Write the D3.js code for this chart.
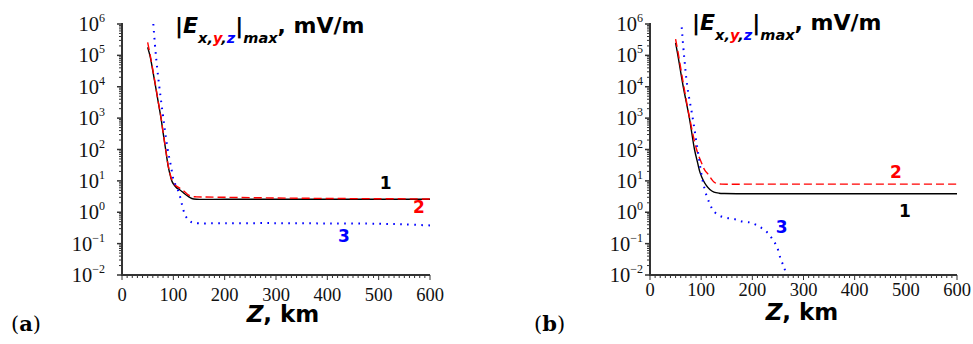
<!DOCTYPE html>
<html><head><meta charset="utf-8">
<script src="https://cdn.jsdelivr.net/npm/d3@7"></script>
<style>
html,body{margin:0;padding:0;background:#fff;}
svg{display:block;}
</style></head>
<body>
<svg id="chart" width="973" height="344"></svg>
<script>
// ---- data ----
const xTickValues = [0, 100, 200, 300, 400, 500, 600];
const yExponents = [-2, -1, 0, 1, 2, 3, 4, 5, 6];

// panel (a)
const a1_z = [50,55,60,65,70,76,80,85,90,94,97,101,106,113,120,129,136,145,200,300,400,500,600];
const a1_v = [1.8e5,9e4,3.2e4,1.1e4,3.7e3,1e3,3.5e2,1e2,2.9e1,1.5e1,1e1,7.6,6.1,5.1,4.1,3.2,2.75,2.6,2.6,2.6,2.6,2.6,2.6];
const a2_z = [50,55,60,65,70,76,80,85,90,94,97,101,106,113,120,129,136,145,200,300,400,500,600];
const a2_v = [2.6e5,1.0e5,3.5e4,1.2e4,3.8e3,1.05e3,3.6e2,1.05e2,3.1e1,1.6e1,1.1e1,8.3,6.8,5.8,4.8,3.6,3.2,3.1,3.0,2.85,2.75,2.7,2.65];
const a3_z = [61,66,72.7,80.5,89,95,101,108,114,119,125,132,140,200,300,400,500,550,600];
const a3_v = [1e6,1e5,1e4,1e3,1e2,3.2e1,1e1,5.6,2.8,1.26,0.71,0.52,0.46,0.45,0.45,0.44,0.43,0.41,0.38];

// panel (b)
const b1_z = [50,55,65,77,87,93,98,104,110,117,125,135,145,200,300,400,500,600];
const b1_v = [2.5e5,9e4,1e4,1e3,1e2,3.8e1,1.8e1,1.05e1,7.2,5.3,4.4,4.05,3.95,3.9,3.9,3.9,3.9,3.9];
const b2_z = [50,55,65,77,91,100,107,114,120,125,130,140,200,300,400,500,600];
const b2_v = [3.3e5,1.2e5,1.3e4,1.1e3,1e2,4e1,2.2e1,1.6e1,1.15e1,9.2,8.3,7.9,7.9,7.9,7.9,7.9,7.9];
const b3_z = [62,66.5,73,83.5,93,103,111,117.4,124,137,151,166,179,196,207,218.5,230,239,248,256,262,266];
const b3_v = [7.8e5,1e5,1e4,1e3,1e2,1e1,3.2,1.8,1.1,0.76,0.66,0.6,0.51,0.47,0.4,0.31,0.22,0.14,0.08,0.03,0.018,0.01];

const seriesLabels = ["1", "2", "3"];
const seriesColors = ["#000000", "#ff0000", "#0000ff"];

const svg = d3.select("#chart");

function drawPanel(cfg) {
  const g = svg.append("g");
  const x = d3.scaleLinear().domain([0, 600]).range([cfg.x0, cfg.x1]);
  const y = d3.scaleLog().domain([1e-2, 1e6]).range([275, 24]);

  // x axis: minor ticks every 10 km
  const xMinor = d3.range(0, 601, 10);
  g.append("g").selectAll("line").data(xMinor).join("line")
    .attr("x1", d => x(d)).attr("x2", d => x(d))
    .attr("y1", 275).attr("y2", d => 275 + (d % 100 === 0 ? 5 : 3))
    .attr("stroke", "#333").attr("stroke-width", 1);
  g.append("line").attr("x1", x(0)).attr("x2", x(600)).attr("y1", 275).attr("y2", 275)
    .attr("stroke", "#333").attr("stroke-width", 2);
  g.append("g").selectAll("text").data(xTickValues).join("text")
    .attr("x", d => x(d)).attr("y", cfg.xLabelY)
    .attr("text-anchor", "middle")
    .attr("font-family", "'Liberation Serif', serif")
    .attr("font-size", 18.5).attr("fill", "#111")
    .text(d => d);

  // y axis: log minor ticks
  const yMinor = [];
  for (let e = -2; e < 6; e++) for (let k = 2; k <= 9; k++) yMinor.push(k * Math.pow(10, e));
  g.append("g").selectAll("line").data(yMinor).join("line")
    .attr("x1", cfg.x0 - 3).attr("x2", cfg.x0)
    .attr("y1", d => y(d)).attr("y2", d => y(d))
    .attr("stroke", "#333").attr("stroke-width", 1);
  g.append("g").selectAll("line").data(yExponents).join("line")
    .attr("x1", cfg.x0 - 5).attr("x2", cfg.x0)
    .attr("y1", d => y(Math.pow(10, d))).attr("y2", d => y(Math.pow(10, d)))
    .attr("stroke", "#333").attr("stroke-width", 1.5);
  g.append("line").attr("x1", cfg.x0).attr("x2", cfg.x0).attr("y1", 23).attr("y2", 276)
    .attr("stroke", "#333").attr("stroke-width", 2);

  const yl = g.append("g").selectAll("text").data(yExponents).join("text")
    .attr("x", cfg.yLabelRight).attr("y", d => y(Math.pow(10, d)) + 7)
    .attr("text-anchor", "end")
    .attr("font-family", "'Liberation Serif', serif")
    .attr("font-size", 20.5).attr("fill", "#111");
  yl.append("tspan").text("10");
  yl.append("tspan").attr("dy", -9).attr("font-size", 12)
    .text(d => d < 0 ? "\u2212" + Math.abs(d) : String(d));

  // series
  const line = d3.line().x(d => x(d[0])).y(d => y(d[1])).curve(d3.curveCatmullRom.alpha(0.5));
  const dashes = [null, "8,4", "1.6,5.4"];
  cfg.series.forEach((s, i) => {
    const pts = s.z.map((z, j) => [z, s.v[j]]);
    g.append("path").attr("d", line(pts))
      .attr("fill", "none").attr("stroke", seriesColors[i])
      .attr("stroke-width", i === 2 ? 2 : 1.4)
      .attr("stroke-dasharray", dashes[i]);
  });

  // curve labels
  cfg.labelPos.forEach((p, i) => {
    g.append("text").attr("x", p[0]).attr("y", p[1] + 6)
      .attr("text-anchor", "middle")
      .attr("font-family", "'DejaVu Sans', sans-serif").attr("font-weight", "bold")
      .attr("font-size", 17).attr("fill", seriesColors[i])
      .text(seriesLabels[i]);
  });

  // title
  const t = g.append("text").attr("x", cfg.titleX).attr("y", cfg.titleY)
    .attr("font-family", "'DejaVu Sans', sans-serif").attr("font-weight", "bold")
    .attr("font-size", 22).attr("fill", "#000");
  t.append("tspan").text("|");
  t.append("tspan").attr("font-style", "italic").text("E");
  t.append("tspan").attr("dy", 10).attr("font-size", 14.5).attr("font-style", "italic").text("x,");
  t.append("tspan").attr("font-size", 14.5).attr("font-style", "italic").attr("fill", "#ff0000").text("y");
  t.append("tspan").attr("font-size", 14.5).attr("font-style", "italic").text(",");
  t.append("tspan").attr("font-size", 14.5).attr("font-style", "italic").attr("fill", "#0000ff").text("z");
  t.append("tspan").attr("dy", -10).text("|");
  t.append("tspan").attr("dy", 10).attr("font-size", 14.5).attr("font-style", "italic").text("max");
  t.append("tspan").attr("dy", -10).text(", mV/m");

  // x axis title
  const xt = g.append("text").attr("x", cfg.xTitleX).attr("y", cfg.xTitleY)
    .attr("text-anchor", "middle")
    .attr("font-family", "'DejaVu Sans', sans-serif").attr("font-weight", "bold")
    .attr("font-size", 23).attr("fill", "#000");
  xt.append("tspan").attr("font-style", "italic").text("Z");
  xt.append("tspan").text(", km");

  // panel letter
  const pl = g.append("text").attr("x", cfg.letterX).attr("y", 331)
    .attr("font-family", "'DejaVu Serif', 'Liberation Serif', serif")
    .attr("font-size", 21).attr("fill", "#000");
  pl.append("tspan").text("(");
  pl.append("tspan").attr("font-weight", "bold").text(cfg.letter);
  pl.append("tspan").text(")");
}

drawPanel({
  x0: 122, x1: 430, xLabelY: 301, yLabelRight: 105,
  titleX: 175, titleY: 33, xTitleX: 283, xTitleY: 322,
  letter: "a", letterX: 11,
  labelPos: [[385.7, 182.7], [419, 207.3], [344, 235.7]],
  series: [{z: a1_z, v: a1_v}, {z: a2_z, v: a2_v}, {z: a3_z, v: a3_v}]
});
drawPanel({
  x0: 650, x1: 957, xLabelY: 296, yLabelRight: 643,
  titleX: 692, titleY: 29.5, xTitleX: 802, xTitleY: 320,
  letter: "b", letterX: 534,
  labelPos: [[905, 210.7], [896, 171.7], [781.7, 226.7]],
  series: [{z: b1_z, v: b1_v}, {z: b2_z, v: b2_v}, {z: b3_z, v: b3_v}]
});
</script>
</body></html>
